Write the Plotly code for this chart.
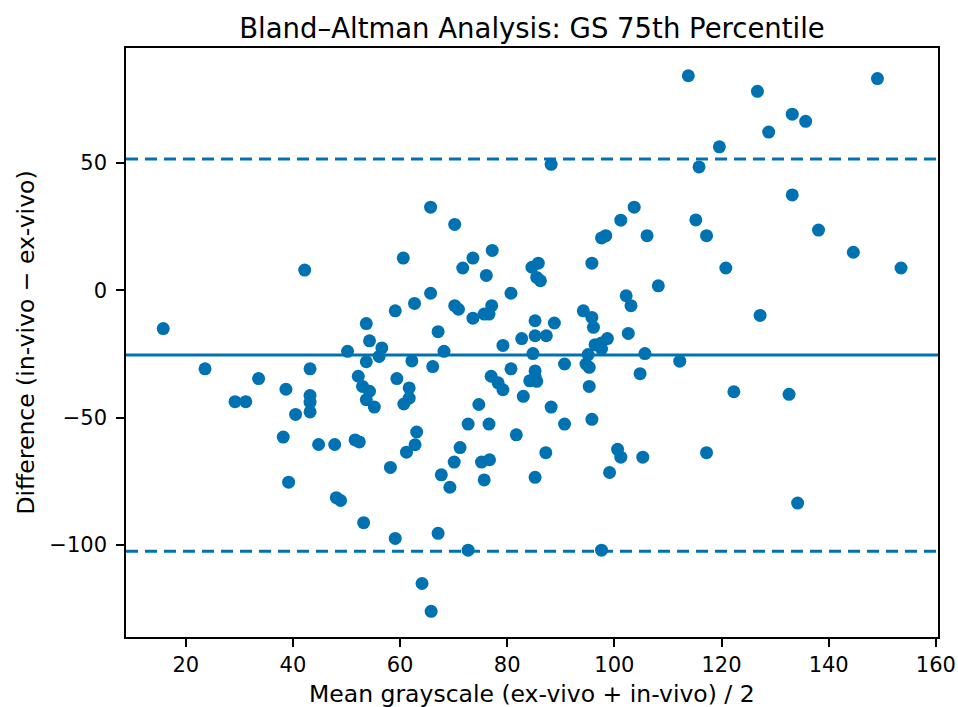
import plotly.graph_objects as go

# Mean grayscale (x) and difference in-vivo - ex-vivo (y)
mean_gray = [
    15.8, 23.6, 29.2, 31.2, 33.6, 38.7, 38.2, 39.2, 40.5, 42.2,
    43.2, 43.2, 43.2, 43.2, 44.8, 47.8, 48.1, 48.9, 51.6, 52.4,
    53.2, 59.1, 50.2, 53.7, 54.3, 56.6, 56.1, 53.7, 52.2, 53.0,
    54.3, 53.7, 55.2, 58.2, 59.4, 59.1, 62.2, 66.1, 68.2, 61.7,
    61.7, 60.7, 63.1, 62.8, 61.2, 77.0, 78.3, 79.2, 74.7, 72.7,
    76.6, 71.2, 70.1, 67.7, 69.3, 75.2, 76.7, 75.7, 79.2, 67.1,
    82.7, 85.2, 87.3, 88.8, 85.2, 84.8, 80.7, 83.0, 85.2, 85.2,
    84.2, 81.7, 88.2, 90.7, 90.7, 87.2, 85.2, 67.1, 72.7, 97.6,
    64.1, 65.8, 95.1, 94.7, 95.3, 95.3, 95.8, 96.4, 97.6, 98.7,
    97.6, 96.1, 102.6, 105.7, 104.8, 100.6, 101.2, 99.1, 105.3, 112.2,
    122.3, 132.6, 117.2, 134.2, 113.8, 126.7, 149.1, 133.2, 135.7, 128.8,
    119.6, 115.8, 133.2, 115.2, 117.2, 138.1, 144.6, 153.5, 120.8, 127.2,
    108.2, 65.7, 70.2, 60.6, 71.7, 73.6, 77.2, 76.1, 88.2, 84.6,
    85.8, 86.2, 85.5, 95.8, 97.6, 98.4, 101.2, 103.7, 106.1, 102.2,
    103.1, 62.7, 65.7, 70.2, 70.9, 73.6, 75.7, 77.1, 76.6, 80.7,
    94.2, 95.8, 85.5,
]
difference = [
    -15.0, -30.8, -43.7, -43.7, -34.6, -38.8, -57.6, -75.3, -48.7, 8.0,
    -30.8, -41.3, -43.9, -47.7, -60.5, -60.5, -81.4, -82.5, -58.7, -59.5,
    -91.2, -97.4, -23.9, -13.0, -19.8, -22.6, -25.9, -28.0, -33.7, -37.7,
    -39.6, -42.9, -45.8, -69.5, -34.6, -8.0, -27.7, -29.9, -23.9, -38.3,
    -42.3, -44.6, -55.6, -60.6, -63.5, -33.7, -36.3, -39.0, -44.8, -52.5,
    -52.5, -61.7, -67.4, -72.4, -77.3, -67.4, -66.5, -74.4, -21.6, -16.2,
    -18.9, -17.8, -17.8, -12.8, -11.9, -24.8, -30.8, -41.6, -31.6, -34.0,
    -35.5, -56.7, -45.8, -52.5, -28.9, -63.7, -73.4, -95.4, -102.0, -102.0,
    -115.1, -126.0, -25.2, -28.9, -30.2, -37.7, -50.6, -21.3, -20.6, -18.9,
    -23.0, -14.5, -16.9, -24.8, -32.7, -62.4, -65.5, -71.5, -65.5, -27.8,
    -39.8, -40.8, -63.7, -83.5, 84.3, 78.2, 83.2, 69.2, 66.4, 62.2,
    56.4, 48.5, 37.5, 27.7, 21.5, 23.7, 15.0, 8.8, 8.8, -9.8,
    1.8, 32.7, 25.9, 12.7, 8.8, 12.7, 15.7, 5.9, 49.5, 9.1,
    10.7, 3.8, 5.1, 10.7, 20.6, 21.5, 27.6, 32.7, 21.5, -2.1,
    -6.0, -5.1, -1.1, -6.0, -7.4, -10.9, -9.3, -6.0, -9.3, -1.1,
    -8.0, -10.6, -35.7,
]

# Bias and limits of agreement
bias = -25.4
loa_upper = 51.6
loa_lower = -102.4

# Axis extents
x_range = [8.85, 160.4]
y_range = [-136.1, 95.2]

x_ticks = [20, 40, 60, 80, 100, 120, 140, 160]
y_ticks = [-100, -50, 0, 50]

COLOR = "#0072B2"
FONT = "DejaVu Sans"
W, H = 958, 707

fig = go.Figure()
fig.add_trace(go.Scatter(
    x=mean_gray, y=difference, mode="markers",
    marker=dict(color=COLOR, size=13, line=dict(width=0)),
    showlegend=False, hoverinfo="x+y",
))

for val, dash in [(bias, "solid"), (loa_upper, "12px,7px"), (loa_lower, "12px,7px")]:
    fig.add_shape(type="line", xref="paper", x0=0, x1=1, yref="y", y0=val, y1=val,
                  line=dict(color=COLOR, width=3, dash=dash), layer="above")

axis_common = dict(
    showline=True, linecolor="black", linewidth=1.5, mirror=True,
    ticks="outside", ticklen=8, tickwidth=1.5, tickcolor="black",
    showgrid=False, zeroline=False, automargin=False,
    tickfont=dict(family=FONT, size=21, color="black"),
)

fig.update_layout(
    width=W, height=H,
    paper_bgcolor="white", plot_bgcolor="white",
    margin=dict(l=126, r=W - 938, t=48, b=H - 637, autoexpand=False),
    title=dict(text="Bland–Altman Analysis: GS 75th Percentile",
               x=0.5, xref="paper", xanchor="center",
               y=1 - 28 / H, yref="container", yanchor="middle",
               font=dict(family=FONT, size=27.5, color="black")),
    xaxis=dict(range=x_range, tickvals=x_ticks, **axis_common),
    yaxis=dict(range=y_range, tickvals=y_ticks, ticklabelstandoff=5, **axis_common),
    annotations=[
        dict(text="Mean grayscale (ex-vivo + in-vivo) / 2", xref="paper", yref="paper",
             x=0.5, y=(637 - 694) / 589, xanchor="center", yanchor="middle",
             showarrow=False, font=dict(family=FONT, size=23.5, color="black")),
        dict(text="Difference (in-vivo − ex-vivo)", xref="paper", yref="paper",
             x=(25 - 126) / 812, y=0.5, xanchor="center", yanchor="middle",
             textangle=-90, showarrow=False,
             font=dict(family=FONT, size=23.5, color="black")),
    ],
)

fig.write_html(
    "out.html",
    config={"displayModeBar": False},
    post_script="document.body.style.margin='0';document.body.style.overflow='hidden';",
)
